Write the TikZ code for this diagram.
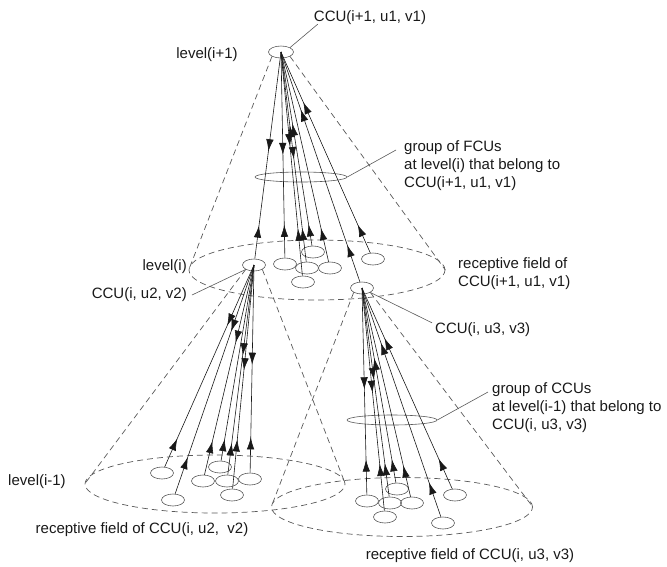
\documentclass[tikz,border=0pt]{standalone}
\usepackage{fontspec}
\setmainfont{Liberation Sans}
\usetikzlibrary{arrows.meta, shapes.geometric, decorations.markings}

\begin{document}
\begin{tikzpicture}[x=1pt, y=-1pt,
  unit/.style={draw=black!65, ellipse, minimum width=23pt, minimum height=12pt, inner sep=0pt, line width=0.6pt},
  group/.style={draw=black!65, ellipse, minimum width=92pt, minimum height=10pt, inner sep=0pt, line width=0.6pt},
  field/.style={draw=black!65, ellipse, dash pattern=on 6pt off 4pt, line width=0.7pt, inner sep=0pt},
  cone/.style={draw=black!65, dash pattern=on 6pt off 4pt, line width=0.7pt},
  link/.style={draw=black!90, line width=0.6pt},
  leader/.style={draw=black!65, line width=0.6pt},
  lbl/.style={font=\fontsize{15}{18}\selectfont, text=black!90, inner sep=0pt, align=left},
  arrdown/.style={postaction={decorate, decoration={markings, mark=at position #1 with {\arrow{Latex[length=12pt,width=7.5pt]}}}}},
  arrup/.style={postaction={decorate, decoration={markings, mark=at position #1 with {\arrowreversed{Latex[length=12pt,width=7.5pt]}}}}}]

\useasboundingbox (0,0) rectangle (667,566);

% receptive fields
\node[field, minimum width=256pt, minimum height=60pt] (fieldI) at (317,270) {};
\node[field, minimum width=260pt, minimum height=58pt] (fieldL) at (215,484) {};
\node[field, minimum width=261pt, minimum height=59pt] (fieldR) at (402,507) {};

% groups
\node[group] (grpF) at (301,177) {};
\node[group, minimum width=90pt] (grpC) at (392,420) {};

% CCUs
\node[unit, minimum width=25pt] (ccuA) at (281,52) {};
\node[unit] (ccuB) at (254,265) {};
\node[unit] (ccuC) at (362,288) {};

% units at level(i)
\node[unit] (f1) at (285,264) {};
\node[unit] (f2) at (307,268) {};
\node[unit] (f3) at (313,252) {};
\node[unit] (f4) at (330,268) {};
\node[unit] (f5) at (303,282) {};
\node[unit] (f6) at (373,259) {};

% units at level(i-1), left
\node[unit] (l1) at (162,473) {};
\node[unit] (l2) at (173,500) {};
\node[unit] (l3) at (203,481) {};
\node[unit] (l4) at (220,467) {};
\node[unit] (l5) at (227,481) {};
\node[unit] (l6) at (232,495) {};
\node[unit] (l7) at (250,479) {};

% units at level(i-1), right
\node[unit] (r1) at (367,501) {};
\node[unit] (r2) at (397,489) {};
\node[unit] (r3) at (412,503) {};
\node[unit] (r4) at (385,517) {};
\node[unit] (r5) at (455,495) {};
\node[unit] (r6) at (443,523) {};
\node[unit] (r7) at (390,503) {};

% cones
\draw[cone] (ccuA.south west) -- (fieldI.west);
\draw[cone] (ccuA.south east) -- (fieldI.east);
\draw[cone] (ccuB.south west) -- (fieldL.west);
\draw[cone] (ccuB.south east) -- (fieldL.east);
\draw[cone] (ccuC.south west) -- (fieldR.west);
\draw[cone] (ccuC.south east) -- (fieldR.east);

% links level(i+1) - level(i)
\draw[link, arrdown=0.48, arrup=0.84] (ccuA.center) -- (ccuB);
\draw[link, arrdown=0.50, arrup=0.84] (ccuA.center) -- (f1);
\draw[link, arrup=0.35, arrdown=0.51, arrup=0.84] (ccuA.center) -- (f2);
\draw[link, arrup=0.37, arrup=0.89] (ccuA.center) -- (f3);
\draw[link, arrup=0.84] (ccuA.center) -- (f4);
\draw[link, arrdown=0.42, arrup=0.79] (ccuA.center) -- (f5);
\draw[link, arrup=0.25, arrup=0.86] (ccuA.center) -- (f6);
\draw[link, arrup=0.25, arrup=0.84] (ccuA.center) -- (ccuC);

% links level(i) - level(i-1), left
\draw[link, arrdown=0.30, arrup=0.86] (ccuB.center) -- (l1);
\draw[link, arrdown=0.29, arrup=0.84] (ccuB.center) -- (l2);
\draw[link, arrdown=0.37, arrup=0.84] (ccuB.center) -- (l3);
\draw[link, arrup=0.89] (ccuB.center) -- (l4);
\draw[link, arrdown=0.43, arrup=0.85] (ccuB.center) -- (l5);
\draw[link, arrdown=0.47, arrup=0.78] (ccuB.center) -- (l6);
\draw[link, arrdown=0.48, arrup=0.83] (ccuB.center) -- (l7);

% links level(i) - level(i-1), right
\draw[link, arrdown=0.49, arrup=0.83] (ccuC.center) -- (r1);
\draw[link, arrup=0.36, arrup=0.88] (ccuC.center) -- (r2);
\draw[link, arrup=0.85] (ccuC.center) -- (r3);
\draw[link, arrdown=0.47, arrup=0.79] (ccuC.center) -- (r4);
\draw[link, arrup=0.25, arrup=0.85] (ccuC.center) -- (r5);
\draw[link, arrup=0.24, arrup=0.85] (ccuC.center) -- (r6);
\draw[link, arrdown=0.44, arrup=0.84] (ccuC.center) -- (r7);

% labels
\node[lbl] (ccuAlbl) at (370,18) {CCU(i+1, u1, v1)};
\node[lbl] (lvlA) at (207,55) {level(i+1)};
\node[lbl, anchor=west] (grpFlbl) at (404,166) {group of FCUs\\at level(i) that belong to\\CCU(i+1, u1, v1)};
\node[lbl, anchor=east] (lvlB) at (187,267) {level(i)};
\node[lbl, anchor=west] (fieldIlbl) at (458,274) {receptive field of\\CCU(i+1, u1, v1)};
\node[lbl, anchor=east] (ccuBlbl) at (187,295) {CCU(i, u2, v2)};
\node[lbl, anchor=west] (ccuClbl) at (435,330) {CCU(i, u3, v3)};
\node[lbl, anchor=west] (grpClbl) at (492,408) {group of CCUs\\at level(i-1) that belong to\\CCU(i, u3, v3)};
\node[lbl] (lvlC) at (37,482) {level(i-1)};
\node[lbl] (fieldLlbl) at (142,530) {receptive field of CCU(i, u2,\ \ v2)};
\node[lbl] (fieldRlbl) at (470,556) {receptive field of CCU(i, u3, v3)};

% leaders
\draw[leader] ([shift={(4pt,1pt)}]ccuAlbl.south west) -- (ccuA.north east);
\draw[leader] (grpF.east) -- ([shift={(-8pt,16pt)}]grpFlbl.west);
\draw[leader] ([xshift=5pt]ccuBlbl.east) -- (ccuB.south west);
\draw[leader] ([xshift=-3pt]ccuClbl.north west) -- (ccuC.south east);
\draw[leader] (grpC.east) -- ([shift={(-4pt,16pt)}]grpClbl.west);

\end{tikzpicture}
\end{document}
